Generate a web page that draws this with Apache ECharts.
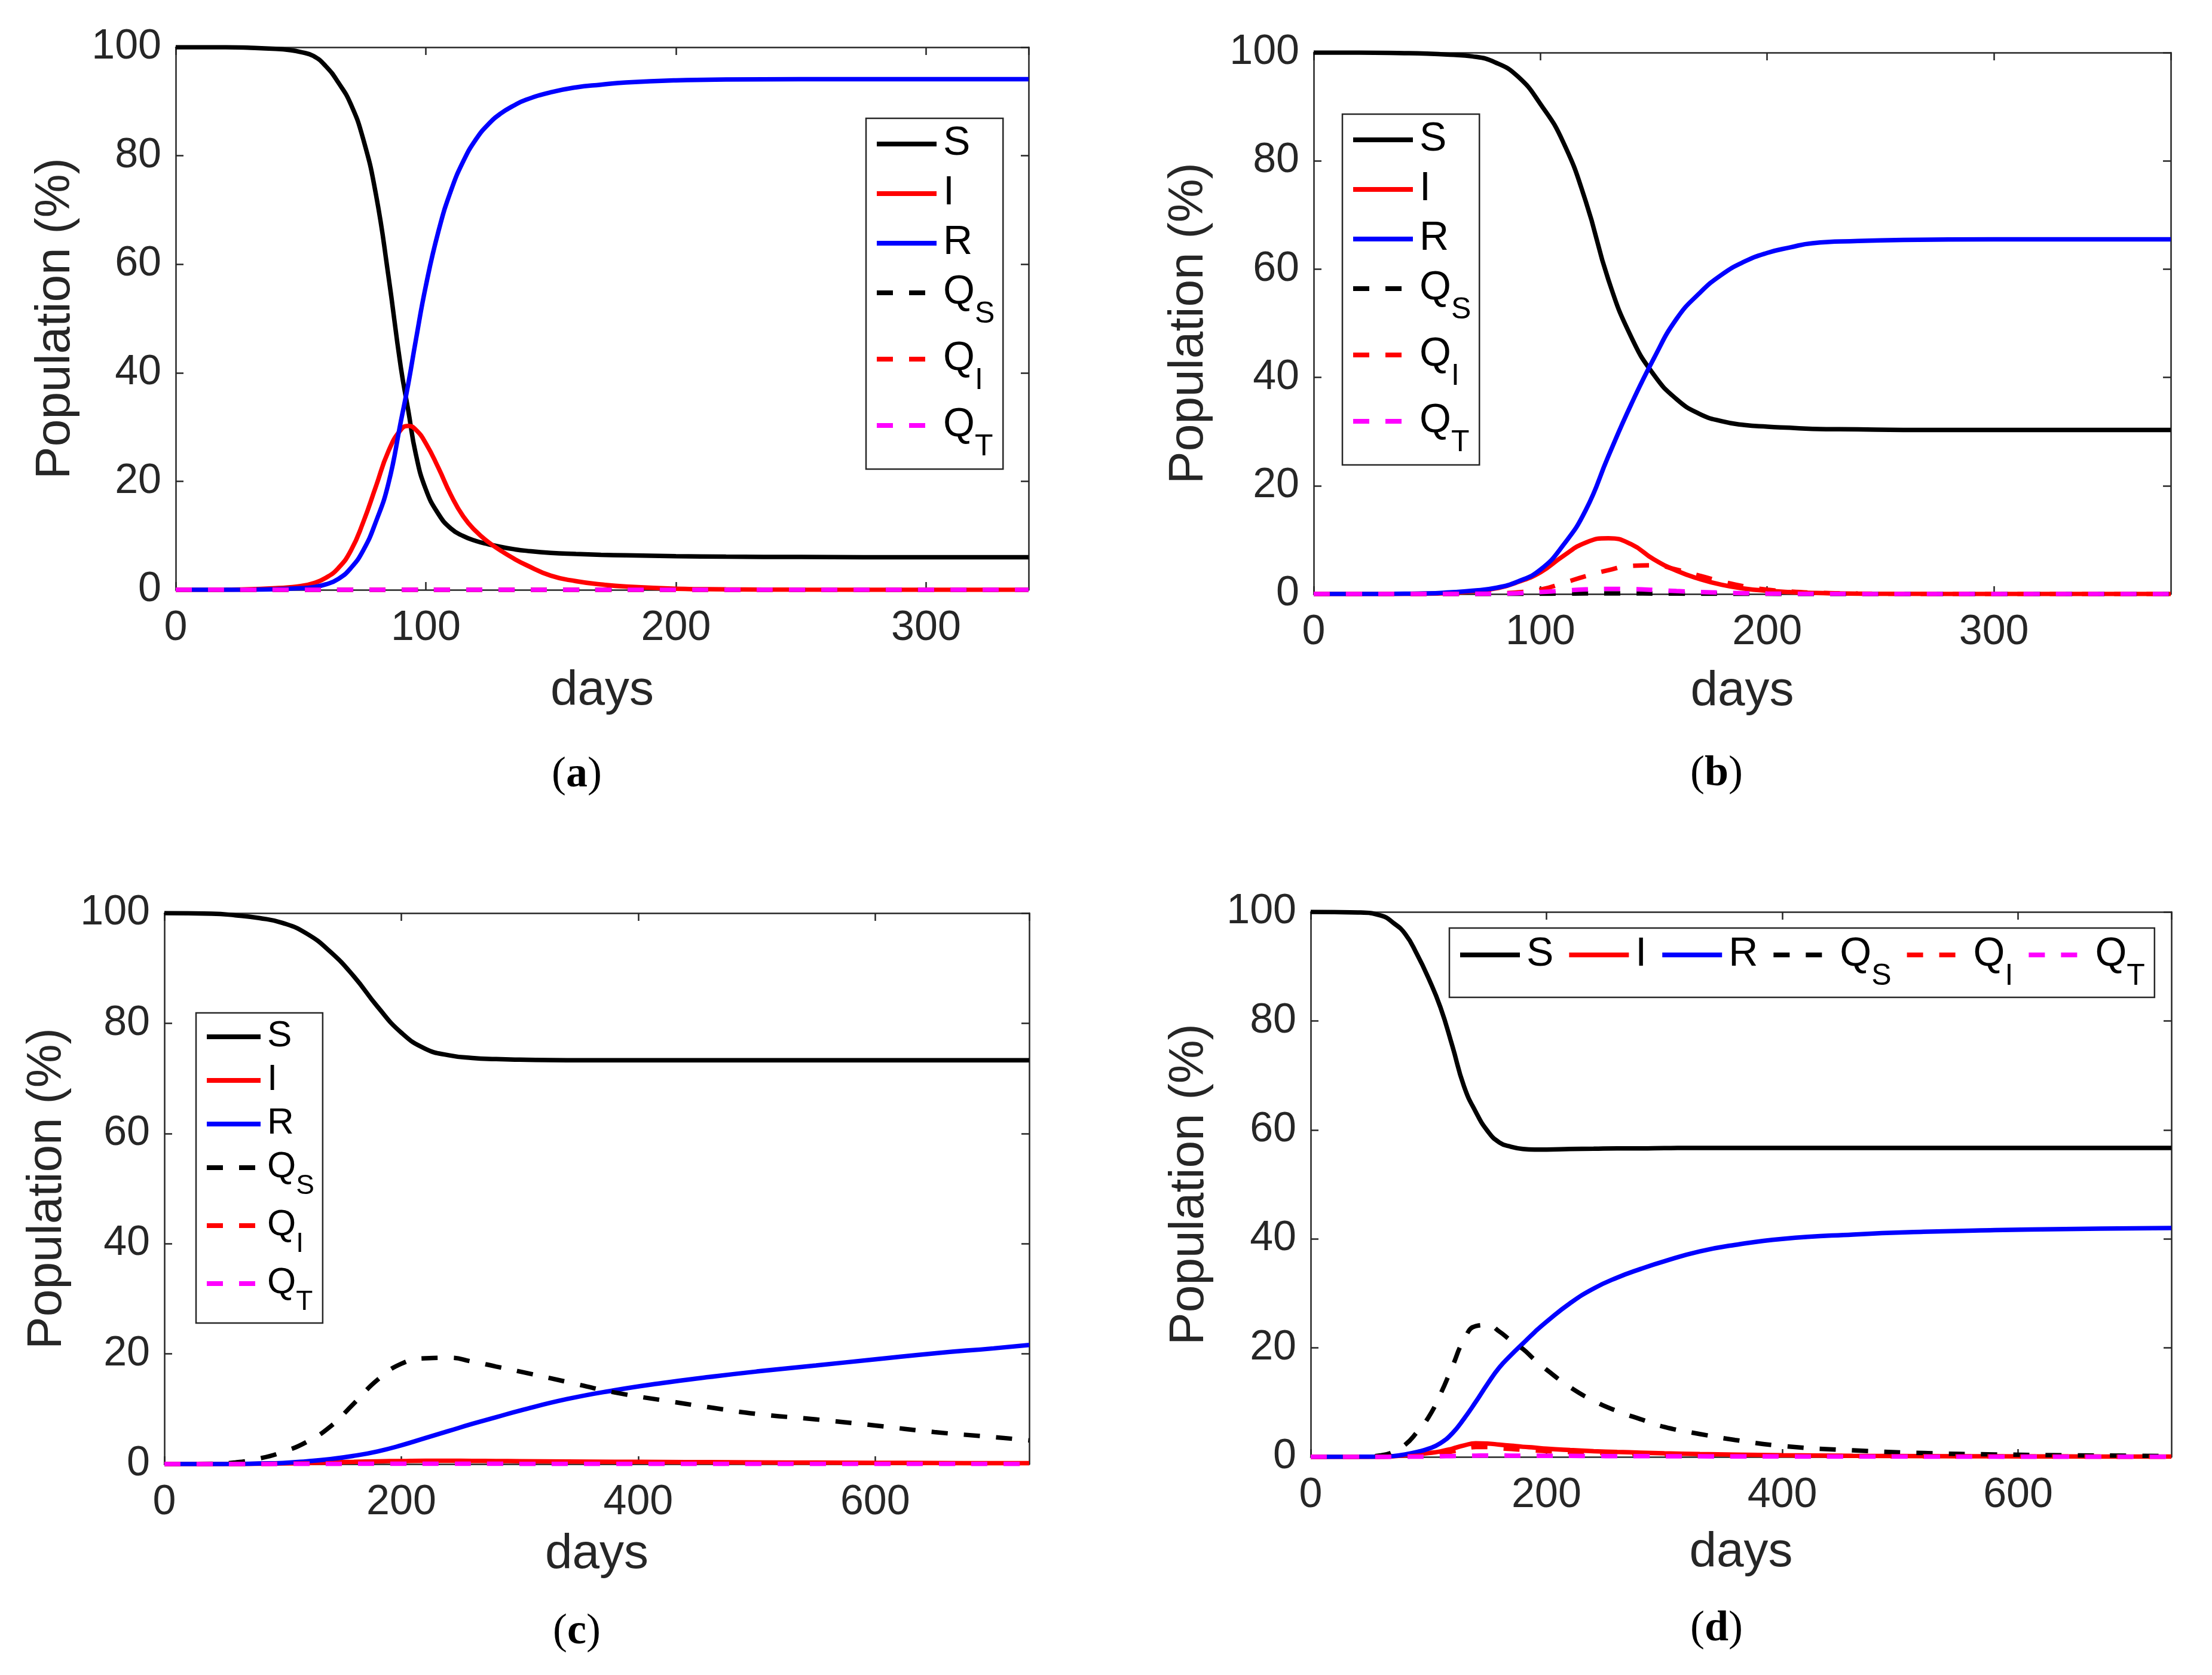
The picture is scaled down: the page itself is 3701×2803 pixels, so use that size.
<!DOCTYPE html>
<html>
<head>
<meta charset="utf-8">
<script src="https://cdn.jsdelivr.net/npm/echarts@6/dist/echarts.min.js"></script>
<style>
html,body{margin:0;padding:0;background:#fff;}
#chart{width:3701px;height:2803px;}
</style>
</head>
<body>
<div id="chart"></div>
<script>
// ---------- DATA ----------
const seriesNames = ['S', 'I', 'R', 'Q_S', 'Q_I', 'Q_T'];
const yTicks = [0, 20, 40, 60, 80, 100];

// panel (a)
const daysA = [0,10,20,30,40,45,50,55,60,65,70,75,80,85,90,93,96,100,105,110,115,120,125,130,135,140,150,160,170,180,200,220,250,300,341];
const aS  = [100,100,100,99.9,99.7,99.5,99.1,98.4,96.5,93.5,89.5,83,73,58,41,33,25,18.5,14,11.3,9.9,9.0,8.4,7.9,7.5,7.2,6.8,6.6,6.45,6.35,6.2,6.1,6.05,6.0,6.0];
const aI  = [0,0,0.02,0.1,0.3,0.45,0.7,1.2,2.2,4,7.2,12.5,19,25.5,29.5,30.2,29.5,27,22.5,17.5,13.5,10.8,8.8,7.2,5.8,4.6,2.6,1.6,1.0,0.6,0.2,0.08,0.02,0,0];
const aR  = [0,0,0,0.02,0.1,0.2,0.3,0.5,1.0,2.0,4,7.3,12.5,19.5,31,38,46,56,66,73.5,79,83,85.8,87.8,89.2,90.3,91.7,92.6,93.1,93.5,93.9,94.05,94.1,94.1,94.1];
const aQS = [0,0,0,0,0,0,0,0,0,0,0,0,0,0,0,0,0,0,0,0,0,0,0,0,0,0,0,0,0,0,0,0,0,0,0];
const aQI = [0,0,0,0,0,0,0,0,0,0,0,0,0,0,0,0,0,0,0,0,0,0,0,0,0,0,0,0,0,0,0,0,0,0,0];
const aQT = [0,0,0,0,0,0,0,0,0,0,0,0,0,0,0,0,0,0,0,0,0,0,0,0,0,0,0,0,0,0,0,0,0,0,0];

// panel (b)
const daysB = [0,20,40,50,60,70,80,90,100,110,120,130,140,150,160,170,180,190,200,210,220,240,260,300,378];
const bS  = [100,100,99.9,99.8,99.6,99.3,98.2,95.6,90.5,83.5,72.5,58,47.5,40.5,36,33.3,31.9,31.2,30.9,30.7,30.5,30.4,30.3,30.3,30.3];
const bI  = [0,0,0.02,0.05,0.2,0.5,1.0,2.2,4,7,9.5,10.3,9.2,6.4,4.3,2.8,1.7,1.0,0.6,0.35,0.2,0.06,0.02,0,0];
const bR  = [0,0,0.05,0.1,0.3,0.6,1.1,2.3,4.5,9,15.5,25.5,35,43.5,50.8,55.5,59,61.4,63,64,64.8,65.2,65.4,65.5,65.5];
const bQS = [0,0,0,0,0,0,0.01,0.03,0.05,0.08,0.1,0.1,0.1,0.09,0.07,0.05,0.04,0.03,0.02,0.01,0.01,0,0,0,0];
const bQI = [0,0,0,0,0.02,0.05,0.1,0.3,0.8,2,3.3,4.4,5.2,5.3,4.5,3.4,2.3,1.4,0.8,0.45,0.25,0.08,0.02,0,0];
const bQT = [0,0,0,0,0,0.02,0.05,0.15,0.35,0.6,0.85,0.95,0.9,0.75,0.55,0.38,0.25,0.15,0.08,0.05,0.03,0.01,0,0,0];

// panel (c)
const daysC = [0,40,60,80,100,120,140,160,180,200,220,240,260,280,300,340,380,420,460,500,550,600,650,700,730];
const cS  = [100,99.9,99.6,99.1,98.2,96.3,93,88.5,83,78.3,75.4,74.2,73.7,73.5,73.4,73.3,73.3,73.3,73.3,73.3,73.3,73.3,73.3,73.3,73.3];
const cI  = [0,0,0.02,0.05,0.1,0.2,0.3,0.4,0.5,0.55,0.6,0.6,0.58,0.55,0.52,0.47,0.42,0.38,0.34,0.3,0.26,0.22,0.19,0.16,0.15];
const cR  = [0,0,0.02,0.1,0.2,0.5,0.9,1.5,2.3,3.4,4.7,6,7.3,8.5,9.7,11.8,13.4,14.7,15.8,16.8,17.9,19,20.1,21,21.6];
const cQS = [0,0.05,0.3,1.0,2.2,4,6.8,11,15.3,18.2,19.2,19.3,18.6,17.7,16.8,14.9,13,11.6,10.3,9.1,8.1,7.0,5.8,4.9,4.3];
const cQI = [0,0,0,0.02,0.05,0.1,0.15,0.2,0.25,0.3,0.32,0.33,0.32,0.3,0.28,0.26,0.23,0.2,0.18,0.16,0.14,0.12,0.1,0.09,0.08];
const cQT = [0,0,0,0,0.01,0.02,0.03,0.04,0.05,0.05,0.05,0.05,0.05,0.05,0.04,0.04,0.04,0.03,0.03,0.03,0.02,0.02,0.02,0.02,0.02];

// panel (d)
const daysD = [0,40,60,70,80,90,100,110,120,130,140,150,160,170,180,190,200,220,240,260,280,300,330,360,400,460,520,580,640,700,730];
const dS  = [100,99.9,99.3,98,96,92.3,87.8,82.5,75.5,68,63.3,59.8,57.7,56.9,56.5,56.4,56.4,56.5,56.55,56.6,56.6,56.65,56.7,56.7,56.7,56.7,56.7,56.7,56.7,56.7,56.7];
const dI  = [0,0.01,0.05,0.1,0.3,0.5,0.7,1.0,1.5,2.1,2.5,2.45,2.25,2.05,1.85,1.7,1.5,1.25,1.05,0.9,0.78,0.65,0.52,0.42,0.3,0.2,0.14,0.1,0.07,0.05,0.05];
const dR  = [0,0.02,0.05,0.15,0.45,0.9,1.5,2.5,4.3,7,10.1,13.4,16.4,18.7,20.8,22.9,24.8,28.2,30.9,32.9,34.5,35.9,37.7,38.9,40,40.8,41.3,41.6,41.8,41.95,42];
const dQS = [0,0.02,0.3,0.9,2.2,4.5,7.3,11.5,16.5,21.5,24,24.2,23,21.3,19.8,17.8,16,12.8,10.3,8.4,6.9,5.5,4.2,3.1,2.0,1.2,0.7,0.45,0.3,0.2,0.15];
const dQI = [0,0,0.02,0.05,0.1,0.2,0.4,0.6,1.0,1.5,1.8,1.8,1.6,1.45,1.3,1.18,1.05,0.88,0.72,0.62,0.53,0.45,0.36,0.29,0.22,0.15,0.1,0.07,0.05,0.04,0.04];
const dQT = [0,0,0,0.01,0.02,0.03,0.05,0.1,0.15,0.2,0.23,0.25,0.24,0.23,0.22,0.21,0.2,0.18,0.16,0.14,0.13,0.12,0.1,0.08,0.07,0.05,0.04,0.03,0.02,0.02,0.02];

const captions = ['a', 'b', 'c', 'd'];

// ---------- LAYOUT / STYLE ----------
const FONT = '"Liberation Sans", Arial, Helvetica, sans-serif';
const SERIF = '"Liberation Serif", "Times New Roman", serif';
const AXC = '#262626';
const colors = {S:'#000000', I:'#ff0000', R:'#0000ff', Q_S:'#000000', Q_I:'#ff0000', Q_T:'#ff00ff'};
const dashed = {S:false, I:false, R:false, Q_S:true, Q_I:true, Q_T:true};

const panels = [
  {days: daysA, vals: [aS,aI,aR,aQS,aQI,aQT], grid:{left:294, top:79, width:1427, height:908}, xmax:341, xint:100,
   yGap:160, xGap:128, legend:{left:1449, top:198, orient:'vertical'}, cap:[965,1297]},
  {days: daysB, vals: [bS,bI,bR,bQS,bQI,bQT], grid:{left:2198, top:88, width:1434, height:906}, xmax:378, xint:100,
   yGap:168, xGap:122, legend:{left:2246, top:191, orient:'vertical'}, cap:[2872,1295]},
  {days: daysC, vals: [cS,cI,cR,cQS,cQI,cQT], grid:{left:275, top:1528, width:1447, height:922}, xmax:730, xint:200,
   yGap:155, xGap:110, legend:{left:328, top:1695, orient:'vertical', small:true}, cap:[965,2731]},
  {days: daysD, vals: [dS,dI,dR,dQS,dQI,dQT], grid:{left:2193, top:1526, width:1440, height:912}, xmax:730, xint:200,
   yGap:162, xGap:119, legend:{left:2425, top:1553, orient:'horizontal'}, cap:[2872,2726]}
];

const grids = [], xAxes = [], yAxes = [], series = [], legends = [], graphics = [];

panels.forEach((p, g) => {
  grids.push(Object.assign({containLabel:false}, p.grid));
  const tick = {show:true, inside:true, length:13, lineStyle:{color:AXC, width:2.5}};
  const line = {show:true, onZero:false, lineStyle:{color:AXC, width:2.5}};
  xAxes.push({
    gridIndex:g, type:'value', position:'bottom', min:0, max:p.xmax, interval:p.xint,
    axisLine:line, axisTick:tick, splitLine:{show:false},
    axisLabel:{show:true, fontFamily:FONT, fontSize:70, color:AXC, margin:30, showMaxLabel:false},
    name:'days', nameLocation:'middle', nameGap:p.xGap,
    nameTextStyle:{fontFamily:FONT, fontSize:82, color:AXC}
  });
  xAxes.push({
    gridIndex:g, type:'value', position:'top', min:0, max:p.xmax, interval:p.xint,
    axisLine:line, axisTick:tick, splitLine:{show:false}, axisLabel:{show:false}
  });
  yAxes.push({
    gridIndex:g, type:'value', position:'left', min:0, max:100, interval:20,
    axisLine:line, axisTick:tick, splitLine:{show:false},
    axisLabel:{show:true, fontFamily:FONT, fontSize:70, color:AXC, margin:24,
      formatter: v => yTicks.indexOf(v) >= 0 ? String(v) : ''},
    name:'Population (%)', nameLocation:'middle', nameGap:p.yGap,
    nameTextStyle:{fontFamily:FONT, fontSize:82, color:AXC}
  });
  yAxes.push({
    gridIndex:g, type:'value', position:'right', min:0, max:100, interval:20,
    axisLine:line, axisTick:tick, splitLine:{show:false}, axisLabel:{show:false}
  });

  const names = seriesNames.map(n => n + '#' + g);
  seriesNames.forEach((n, k) => {
    series.push({
      name: names[k], type:'line', xAxisIndex:2*g, yAxisIndex:2*g,
      data: p.days.map((d, i) => [d, p.vals[k][i]]),
      symbol:'none', showSymbol:false, smooth:0.5,
      lineStyle:{color:colors[n], width:7.5, type: dashed[n] ? [27, 27] : 'solid', cap:'butt'},
      itemStyle:{color:colors[n]},
      z: 2 + k, silent:true
    });
  });

  const sm = p.legend.small;
  const mFS = sm ? 62 : 68, mLH = sm ? 64 : 70, sFS = sm ? 46 : 50, sPad = sm ? 40 : 46;
  legends.push({
    show:true, data: names, orient: p.legend.orient, left: p.legend.left, top: p.legend.top,
    itemWidth: sm ? 90 : 100, itemHeight: 20, itemGap: p.legend.orient === 'vertical' ? (sm ? 11 : 15) : 22,
    padding: p.legend.orient === 'vertical' ? [8, 14, 12, 14] : [10, 16, 10, 14],
    borderColor:AXC, borderWidth:2.5, backgroundColor:'#ffffff',
    selectedMode:false,
    itemStyle:{opacity:0},
    lineStyle:{width:8},
    formatter: function (name) {
      const base = name.split('#')[0];
      if (base.indexOf('_') > 0) {
        const parts = base.split('_');
        return '{m|' + parts[0] + '}{s|' + parts[1] + '}';
      }
      return '{m|' + base + '}';
    },
    textStyle:{
      fontFamily:FONT, color:'#000',
      rich:{
        m:{fontFamily:FONT, fontSize:mFS, lineHeight:mLH, color:'#000', verticalAlign:'top', padding:[0,0,0,6]},
        s:{fontFamily:FONT, fontSize:sFS, lineHeight:sFS, color:'#000', verticalAlign:'top', padding:[sPad,0,0,0]}
      }
    }
  });

  graphics.push({
    type:'text', x:p.cap[0], y:p.cap[1],
    style:{
      text:'{p|(}{l|' + captions[g] + '}{p|)}',
      align:'center', verticalAlign:'middle',
      rich:{
        p:{fontFamily:SERIF, fontSize:72, fontWeight:'normal', fill:'#000'},
        l:{fontFamily:SERIF, fontSize:72, fontWeight:'bold', fill:'#000'}
      }
    }
  });
});

const chart = echarts.init(document.getElementById('chart'), null, {renderer:'canvas', width:3701, height:2803});
chart.setOption({
  animation:false,
  backgroundColor:'#ffffff',
  grid: grids,
  xAxis: xAxes,
  yAxis: yAxes,
  legend: legends,
  series: series,
  graphic: graphics
});
</script>
</body>
</html>
